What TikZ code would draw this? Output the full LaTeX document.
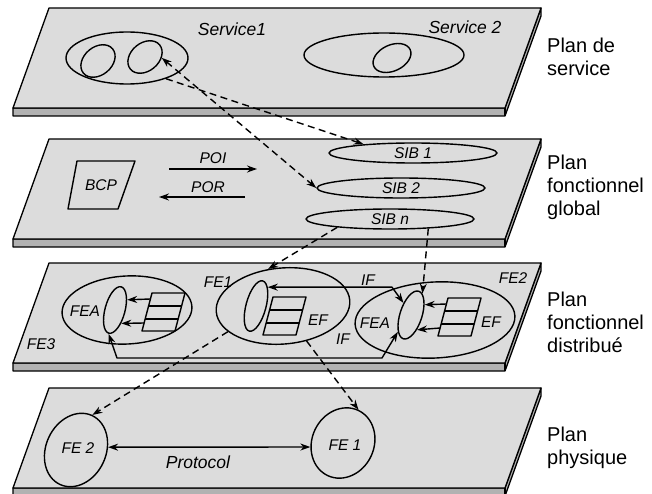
\documentclass[tikz,border=0pt]{standalone}
\usepackage{fontspec}
\setmainfont{Liberation Sans}
\usetikzlibrary{shapes.geometric,arrows.meta}

\definecolor{topgray}{RGB}{220,220,220}
\definecolor{sidegray}{RGB}{178,178,178}

\tikzset{
  plan/.style={draw=black, line width=1.3pt},
  ell/.style={draw, ellipse, line width=1.4pt, inner sep=0pt},
  lab/.style={font=\fontsize{15.5}{18}\selectfont\itshape, inner sep=0pt},
  biglab/.style={font=\fontsize{17.5}{20}\selectfont\itshape, inner sep=0pt},
  side/.style={font=\fontsize{20}{23}\selectfont, align=left, anchor=west, inner sep=0pt},
  link/.style={line width=1.4pt},
  dlink/.style={line width=1.4pt, dash pattern=on 7pt off 4.5pt},
}

\begin{document}
\begin{tikzpicture}[x=1pt, y=-1pt, line join=round, >={Stealth[length=10pt,width=7pt]}]

\useasboundingbox (0,0) rectangle (652,494);

\def\pl{13};  % front left
\def\pr{505}; % front right
\def\dx{36};  % slant
\def\dh{100}; % depth
\def\th{8};   % thickness

% the four plans
\foreach \y in {8,139,263,388} {
  \filldraw[plan, fill=sidegray] (\pl,\y+\dh) -- (\pr,\y+\dh) -- (\pr+\dx,\y) -- (\pr+\dx,\y+\th)
      -- (\pr,\y+\dh+\th) -- (\pl,\y+\dh+\th) -- cycle;
  \filldraw[plan, fill=topgray] (\pl+\dx,\y) -- (\pr+\dx,\y) -- (\pr,\y+\dh) -- (\pl,\y+\dh) -- cycle;
  \draw[plan] (\pr,\y+\dh) -- (\pr,\y+\dh+\th);
}

\node[side] (nomA) at (547,57) {Plan de\\service};
\node[side] (nomB) at (547,187) {Plan\\fonctionnel\\global};
\node[side] (nomC) at (547,322) {Plan\\fonctionnel\\distribué};
\node[side] (nomD) at (547,448) {Plan\\physique};

% plan de service
\node[biglab] (svcAlab) at (232,29) {Service1};
\node[ell, minimum width=122, minimum height=52] (svcA) at (127,58) {};
\node[ell, minimum width=38, minimum height=28, rotate=40] (svcAi) at (98,61) {};
\node[ell, minimum width=38, minimum height=28, rotate=40] (svcAii) at (145,57) {};

\node[biglab] (svcBlab) at (465,27) {Service 2};
\node[ell, minimum width=160, minimum height=44] (svcB) at (384,55) {};
\node[ell, minimum width=40, minimum height=26, rotate=25] (svcBi) at (392,58) {};

% plan fonctionnel global
\draw[link] (77,161) -- (135,161) -- (118,209) -- (68,209) -- cycle;
\node[lab] (bcp) at (101,185) {BCP};

\coordinate (poiS) at (169,169);
\coordinate (poiE) at (257,169);
\draw[link, ->] (poiS) -- (poiE);
\node[lab] (poi) at (213,158) {POI};

\coordinate (porS) at (245,197);
\coordinate (porE) at (159,197);
\draw[link, ->] (porS) -- (porE);
\node[lab] (por) at (208,187) {POR};

\node[ell, lab, minimum width=168, minimum height=20] (sibA) at (413,153) {SIB 1};
\node[ell, lab, minimum width=168, minimum height=20] (sibB) at (401,188) {SIB 2};
\node[ell, lab, minimum width=168, minimum height=20] (sibN) at (390,219) {SIB n};

% plan fonctionnel distribue
\node[ell, minimum width=130, minimum height=68, rotate=3] (fe3) at (127,310) {};
\node[ell, minimum width=20, minimum height=48, rotate=-15] (fea3) at (115,310) {};
\node[lab] (fea3lab) at (85,311) {FEA};
\node[lab] (fe3lab) at (41,344) {FE3};

\node[ell, minimum width=134, minimum height=76, rotate=5] (fe1) at (283,306) {};
\node[ell, minimum width=20, minimum height=52, rotate=-15] (fea1) at (256,306) {};
\node[lab] (fe1lab) at (218,282) {FE1};
\node[lab] (ef1lab) at (318,320) {EF};

\node[ell, minimum width=160, minimum height=76, rotate=3] (fe2) at (435,320) {};
\node[ell, minimum width=22, minimum height=50, rotate=-18] (fea2) at (411,315) {};
\node[lab] (fea2lab) at (375,323) {FEA};
\node[lab] (ef2lab) at (491,322) {EF};
\node[lab] (fe2lab) at (513,278) {FE2};

% EF stacks
\foreach \n/\tx/\ty in {3/152/293, 1/273/297, 2/448/298} {
  \draw[link] (\tx,\ty) -- ++(33,0) -- ++(-10,38) -- ++(-33,0) -- cycle;
  \draw[link] (\tx-10*13/38,\ty+13) -- ++(33,0);
  \draw[link] (\tx-10*26/38,\ty+26) -- ++(33,0);
  \coordinate (stA\n) at (\tx-10*6/38,\ty+6);
  \coordinate (stC\n) at (\tx-10*30/38,\ty+30);
}
\draw[link, ->] (stA3) -- (fea3.55);
\draw[link, ->] (stC3) -- (fea3.-50);
\draw[link, ->] (stA2) -- (fea2.55);
\draw[link, ->] (stC2) -- (fea2.-50);

\coordinate (ifA) at (392,288);
\draw[link, <->] (fea1.73) -- (fea1.73 -| ifA) -- (fea2.140);
\node[lab] (ifAlab) at (368,280) {IF};

\coordinate (ifB) at (117,358);
\coordinate (ifC) at (382,358);
\draw[link, <->] (fea3.south) -- (ifB) -- (ifC) -- (fea2.250);
\node[lab] (ifBlab) at (343,339) {IF};

% plan physique
\node[ell, minimum width=60, minimum height=76, rotate=-25] (phyB) at (76,450) {};
\node[lab] (phyBlab) at (78,448) {FE 2};
\node[ell, minimum width=62, minimum height=72, rotate=-25] (phyA) at (343,443) {};
\node[lab] (phyAlab) at (345,445) {FE 1};

\draw[link, <->] (phyB.30) -- (phyA.212);
\node[biglab] (protlab) at (198,462) {Protocol};

% liens entre plans
\draw[dlink, <->] (svcAii.-43) -- (sibB.west);
\draw[dlink, ->] (svcA.-28) -- (sibA.170);
\draw[dlink, ->] (sibN.189) -- (fe1.107);
\draw[dlink, ->] (sibN.-14) -- (fea2.80);
\draw[dlink, ->] (fe1.200) -- (phyB.north);
\draw[dlink, ->] (fe1.-61) -- (phyA.north);

\end{tikzpicture}
\end{document}
